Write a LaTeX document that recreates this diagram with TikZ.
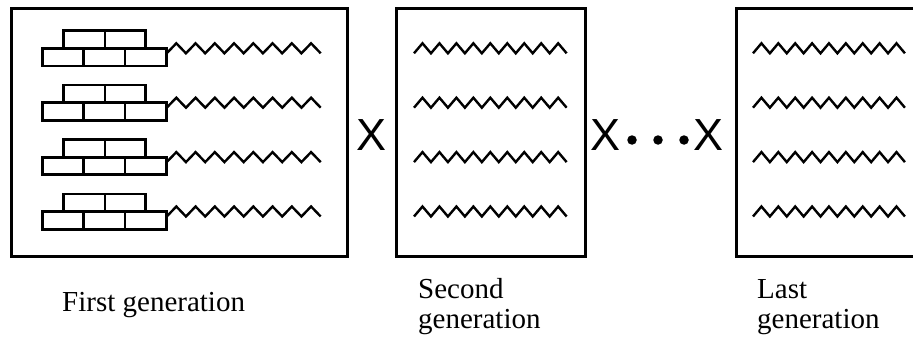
\documentclass[tikz,border=0pt]{standalone}
\usepackage{fontspec}
\setmainfont{Liberation Serif}
\newfontfamily\xfont{Liberation Sans}
\begin{document}
\begin{tikzpicture}[x=1pt,y=-1pt,
  frame/.style={line width=3pt},
  brick/.style={line width=2.8pt},
  zig/.style={line width=2.4pt,line join=miter},
  lbl/.style={font=\fontsize{29}{29}\selectfont,inner sep=0pt,anchor=base west,align=left},
  bigx/.style={font=\xfont\fontsize{45}{45}\selectfont,inner sep=0pt,anchor=center},
  dotc/.style={circle,fill=black,inner sep=0pt,minimum size=9.5pt}]
\useasboundingbox (0,0) rectangle (913,337);
\clip (0,0) rectangle (913,337);
% boxes
\draw[frame] (11,9) rectangle (347.5,256);
\draw[frame] (396,8.5) rectangle (585,256);
\draw[frame] (736,8.5) rectangle (930,256);
% rows of bricks and chains
\foreach \r in {0,1,2,3}{
  \begin{scope}[yshift={-54.4*\r}]
    \draw[brick] (63.3,30.7) rectangle (145.7,48.3);
    \draw[brick] (105,30.7) -- (105,48.3);
    \draw[brick] (42.7,48.3) rectangle (166.7,66);
    \draw[brick] (83.3,48.3) -- (83.3,66);
    \draw[brick] (125,48.3) -- (125,66);
    \draw[zig] (166.7,53.3) \foreach \i in {1,...,8}{ -- ++(9.625,-10) -- ++(9.625,10)};
    \draw[zig] (414,53.3) \foreach \i in {1,...,9}{ -- ++(8.48,-10) -- ++(8.48,10)};
    \draw[zig] (753,53.3) \foreach \i in {1,...,9}{ -- ++(8.44,-10) -- ++(8.44,10)};
  \end{scope}
}
% operators
\node[bigx] (x1) at (372,135.5) {X};
\node[bigx] (x2) at (606,135.5) {X};
\node[bigx] (x3) at (708,135.5) {X};
\node[dotc] (d1) at (632,140) {};
\node[dotc] (d2) at (658,140) {};
\node[dotc] (d3) at (684,140) {};
% labels
\node[lbl] (l1) at (62,311) {First generation};
\node[lbl] (l2a) at (418,298) {Second};
\node[lbl] (l2b) at (418,328) {generation};
\node[lbl] (l3a) at (757,298) {Last};
\node[lbl] (l3b) at (757,328) {generation};
\end{tikzpicture}
\end{document}
